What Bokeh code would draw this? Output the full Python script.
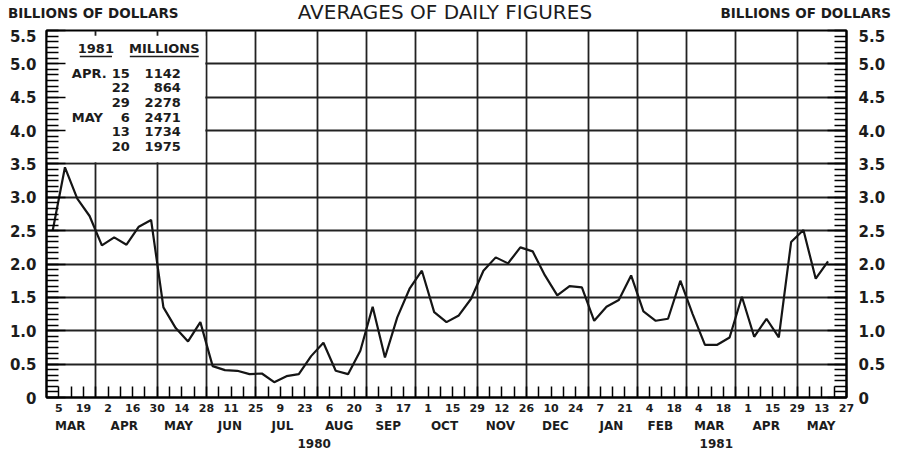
import pandas as pd
from bokeh.plotting import figure
from bokeh.layouts import column
from bokeh.models import Range1d, FixedTicker, LinearAxis, PrintfTickFormatter
from bokeh.core.properties import value
from bokeh.embed import file_html
from bokeh.resources import INLINE

FONT = "DejaVu Sans"
INK = "#1c1c1c"

# ---------------- data ----------------
first_week_ending = "1980-03-05"
last_week_ending = "1981-05-20"
# weekly averages of daily figures, billions of dollars
weekly_values = [
    2.50, 3.45, 2.98, 2.72, 2.28, 2.40, 2.29, 2.56, 2.66, 1.35,
    1.04, 0.84, 1.13, 0.47, 0.41, 0.40, 0.35, 0.36, 0.23, 0.32,
    0.35, 0.62, 0.82, 0.40, 0.35, 0.70, 1.36, 0.60, 1.20, 1.63,
    1.90, 1.28, 1.13, 1.23, 1.48, 1.90, 2.10, 2.01, 2.25, 2.19,
    1.83, 1.53, 1.67, 1.65, 1.15, 1.36, 1.46, 1.83, 1.29, 1.15,
    1.18, 1.75, 1.25, 0.79, 0.79, 0.90, 1.51, 0.91, 1.18, 0.90,
    2.33, 2.51, 1.78, 2.04,
]
axis_first_tick = "1980-03-05"
axis_last_tick = "1981-05-27"

month_names = ["MAR", "APR", "MAY", "JUN", "JUL", "AUG", "SEP", "OCT",
               "NOV", "DEC", "JAN", "FEB", "MAR", "APR", "MAY"]
year_names = ["1980", "1981"]
y_ticks = [0, 0.5, 1.0, 1.5, 2.0, 2.5, 3.0, 3.5, 4.0, 4.5, 5.0, 5.5]

table_year = "1981"
table_unit = "MILLIONS"
table_months = ["APR.", "", "", "MAY", "", ""]
table_days = ["15", "22", "29", "6", "13", "20"]
table_values = ["1142", "864", "2278", "2471", "1734", "1975"]

title_text = "AVERAGES OF DAILY FIGURES"
unit_text = "BILLIONS OF DOLLARS"

# ---------------- layout positions (in weeks after first tick) ----------------
month_label_pos = [0.93, 5.32, 9.72, 13.9, 18.17, 22.78, 26.77, 31.34,
                   35.88, 40.35, 44.9, 48.87, 52.85, 57.48, 61.94]
year_label_pos = [20.75, 53.42]
title_pos = 31.37

origin = pd.Timestamp(axis_first_tick)
WEEK = pd.Timedelta(days=7)


def weeks(ts):
    return (pd.Timestamp(ts) - origin) / WEEK


dates = pd.date_range(first_week_ending, last_week_ending, freq="7D")
x_mid = [weeks(d) - 0.5 for d in dates]  # each week's average plotted at mid-week

tick_dates = pd.date_range(axis_first_tick, axis_last_tick, freq="7D")
tick_pos = [int(round(weeks(d))) for d in tick_dates]
tick_labels = {w: (str(d.day) if w % 2 == 0 else "") for w, d in zip(tick_pos, tick_dates)}
grid_pos = [w for w, d in zip(tick_pos, tick_dates)
            if (d + WEEK).month != d.month and w < tick_pos[-1]]

x_start = tick_pos[0] - 1
x_end = tick_pos[-1]

W = 897
HEAD_H = 29
MAIN_H = 421

# ---------------- header strip (titles) ----------------
head = figure(width=W, height=HEAD_H, x_range=Range1d(x_start, x_end), y_range=Range1d(HEAD_H, 0),
              x_axis_type=None, y_axis_type=None, output_backend="svg", toolbar_location=None,
              title=None, min_border_left=46, min_border_right=51, min_border_top=0,
              min_border_bottom=0, outline_line_color=None,
              background_fill_color="white", border_fill_color="white")
head.text(x=[title_pos], y=[11], text=[title_text], text_align="center", text_baseline="middle",
          text_font=value(FONT), text_font_style="normal", text_font_size="20px", text_color=INK)


def unit_axis(standoff):
    ax = LinearAxis(ticker=FixedTicker(ticks=[12.5]), major_label_overrides={12.5: unit_text})
    ax.axis_line_color = None
    ax.major_tick_line_color = None
    ax.minor_tick_line_color = None
    ax.major_tick_in = 0
    ax.major_tick_out = 0
    ax.minor_tick_in = 0
    ax.minor_tick_out = 0
    ax.major_label_standoff = standoff
    ax.major_label_text_font = FONT
    ax.major_label_text_font_style = "bold"
    ax.major_label_text_font_size = "13.5px"
    ax.major_label_text_color = INK
    return ax


head.add_layout(unit_axis(-132), "left")
head.add_layout(unit_axis(-126), "right")

# ---------------- main chart ----------------
p = figure(width=W, height=MAIN_H, x_range=Range1d(x_start, x_end), y_range=Range1d(0, 5.5),
           output_backend="svg", toolbar_location=None, title=None,
           min_border_left=46, min_border_right=51, min_border_top=1, min_border_bottom=53,
           background_fill_color="white", border_fill_color="white")
p.outline_line_color = "black"
p.outline_line_width = 2

# grids
p.xgrid.ticker = FixedTicker(ticks=grid_pos)
p.ygrid.ticker = FixedTicker(ticks=[t for t in y_ticks if 0 < t < 5.5])
for g in (p.xgrid, p.ygrid):
    g.grid_line_color = "#222222"
    g.grid_line_width = 1.8

# white inset box for the table (covers grid in the upper-left cell block)
box_right = weeks("1980-05-28")
p.quad(left=[x_start], right=[box_right - 0.1], bottom=[3.5 + 0.025], top=[5.5 - 0.08],
       fill_color="white", line_color=None)

# data line
p.line(x=x_mid, y=weekly_values, line_color="#151515", line_width=2.2)

# x axis (day numbers)
xa = p.xaxis[0]
xa.ticker = FixedTicker(ticks=tick_pos)
xa.major_label_overrides = tick_labels
xa.major_tick_in = 11
xa.major_tick_out = 0
xa.major_tick_line_width = 1.5
xa.major_tick_line_color = "black"
xa.axis_line_width = 2
xa.axis_line_color = "black"
xa.major_label_standoff = 6
xa.major_label_text_font = FONT
xa.major_label_text_font_style = "bold"
xa.major_label_text_font_size = "11px"
xa.major_label_text_color = INK


def text_axis(positions, names, standoff, size):
    ax = LinearAxis(ticker=FixedTicker(ticks=positions),
                    major_label_overrides=dict(zip(positions, names)))
    ax.axis_line_color = None
    ax.major_tick_line_color = None
    ax.minor_tick_line_color = None
    ax.major_tick_in = 0
    ax.major_tick_out = 0
    ax.minor_tick_in = 0
    ax.minor_tick_out = 0
    ax.major_label_standoff = standoff
    ax.major_label_text_font = FONT
    ax.major_label_text_font_style = "bold"
    ax.major_label_text_font_size = size
    ax.major_label_text_color = INK
    return ax


p.add_layout(text_axis(month_label_pos, month_names, 4, "12px"), "below")
p.add_layout(text_axis(year_label_pos, year_names, 3, "12px"), "below")

# y axes
minor = [k / 12 for k in range(0, 67)]


def style_y(ax, standoff):
    ax.ticker = FixedTicker(ticks=y_ticks, minor_ticks=minor)
    ax.formatter = PrintfTickFormatter(format="%.1f")
    ax.major_label_overrides = {0: "0"}
    ax.major_tick_in = 19
    ax.major_tick_out = 0
    ax.minor_tick_in = 12
    ax.minor_tick_out = 0
    ax.major_tick_line_color = "black"
    ax.minor_tick_line_color = "black"
    ax.major_tick_line_width = 1.5
    ax.minor_tick_line_width = 1.5
    ax.axis_line_color = "black"
    ax.axis_line_width = 2
    ax.major_label_standoff = standoff
    ax.major_label_text_font = FONT
    ax.major_label_text_font_style = "bold"
    ax.major_label_text_font_size = "15px"
    ax.major_label_text_color = INK


style_y(p.yaxis[0], 10)
ry = LinearAxis()
style_y(ry, 12)
p.add_layout(ry, "right")

# inset table
row_y = [4.86 - 0.22 * k for k in range(len(table_values))]
tfont = dict(text_font=value(FONT), text_font_style="bold", text_font_size="13px",
             text_color=INK, text_baseline="middle")
p.text(x=[3.01, 8.57], y=[5.23, 5.23], text=[table_year, table_unit], text_align="center", **tfont)
p.segment(x0=[1.71, 5.77], y0=[5.11, 5.11], x1=[4.32, 11.37], y1=[5.11, 5.11],
          line_color=INK, line_width=1.6)
p.text(x=[1.06] * len(table_months), y=row_y, text=table_months, text_align="left", **tfont)
p.text(x=[5.77] * len(table_days), y=row_y, text=table_days, text_align="right", **tfont)
p.text(x=[9.91] * len(table_values), y=row_y, text=table_values, text_align="right", **tfont)

layout = column(head, p, spacing=0)
open("out.html", "w").write(file_html(layout, INLINE))
